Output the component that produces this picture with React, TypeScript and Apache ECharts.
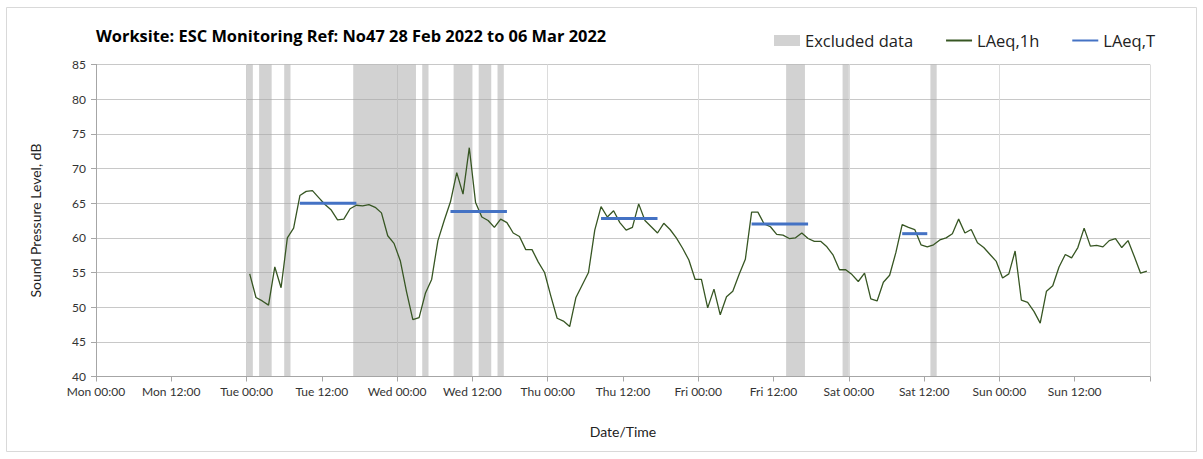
import React, { useEffect, useRef } from "react";
import * as echarts from "echarts";

// Hourly LAeq,1h values, one per hour starting Tue 00:30 (hours from Mon 00:00)
const firstHour = 24.5;
const laeq1h = [
  54.8, 51.4, 50.9, 50.3, 55.8, 52.8, 60.0, 61.4, 66.1, 66.7, 66.8, 65.8,
  64.8, 64.0, 62.6, 62.7, 64.2, 64.7, 64.6, 64.8, 64.4, 63.6, 60.3, 59.2,
  56.7, 52.2, 48.2, 48.5, 52.0, 54.0, 59.6, 62.5, 65.2, 69.4, 66.3, 73.0,
  65.1, 63.0, 62.5, 61.5, 62.7, 62.2, 60.7, 60.2, 58.3, 58.3, 56.5, 55.0,
  51.6, 48.4, 48.0, 47.2, 51.4, 53.2, 55.0, 61.1, 64.5, 63.0, 63.9, 62.2,
  61.1, 61.5, 64.9, 62.5, 61.6, 60.7, 62.1, 61.2, 60.0, 58.5, 56.8, 54.0,
  54.0, 49.9, 52.6, 48.9, 51.5, 52.3, 54.7, 56.9, 63.7, 63.7, 62.0, 61.6,
  60.5, 60.4, 59.9, 60.0, 60.7, 59.9, 59.5, 59.5, 58.7, 57.5, 55.4, 55.4,
  54.7, 53.7, 54.9, 51.2, 50.9, 53.6, 54.6, 57.9, 61.9, 61.5, 61.2, 59.0,
  58.7, 59.0, 59.7, 60.0, 60.6, 62.7, 60.7, 61.2, 59.3, 58.6, 57.6, 56.6,
  54.2, 54.8, 58.1, 51.0, 50.7, 49.4, 47.7, 52.3, 53.1, 55.8, 57.6, 57.1,
  58.6, 61.4, 58.8, 58.9, 58.7, 59.6, 59.9, 58.6, 59.6, 57.3, 54.9, 55.2,
];

// LAeq,T working-period averages (hours from Mon 00:00)
const periodStart = [32.5, 56.5, 80.5, 104.5, 128.5];
const periodEnd = [41.5, 65.5, 89.5, 113.5, 132.5];
const periodValue = [65.0, 63.8, 62.8, 62.0, 60.6];

// Excluded data periods (hours from Mon 00:00)
const excludedStart = [24, 26, 30, 41, 52, 57, 61, 64, 110, 119, 133];
const excludedEnd = [25, 28, 31, 51, 53, 60, 63, 65, 113, 120, 134];

const tickLabels = [
  "Mon 00:00", "Mon 12:00", "Tue 00:00", "Tue 12:00", "Wed 00:00", "Wed 12:00",
  "Thu 00:00", "Thu 12:00", "Fri 00:00", "Fri 12:00", "Sat 00:00", "Sat 12:00",
  "Sun 00:00", "Sun 12:00",
];

const titleText = "Worksite: ESC Monitoring Ref: No47 28 Feb 2022 to 06 Mar 2022";
const FONT = "Lato, 'Open Sans', sans-serif";
const WIDE = "'Open Sans', Lato, sans-serif";

export default function App() {
  const ref = useRef<HTMLDivElement>(null);
  useEffect(() => {
    if (!ref.current) return;
    const chart = echarts.init(ref.current, null, { renderer: "svg" });
    const lineData = laeq1h.map((v, i) => [firstHour + i, v]);
    const periodSeries = periodValue.map((v, i) => ({
      name: "LAeq,T",
      type: "line" as const,
      xAxisIndex: 1,
      data: [
        [periodStart[i], v],
        [periodEnd[i], v],
      ],
      symbol: "none",
      lineStyle: { color: "#4472c4", width: 3 },
      itemStyle: { color: "#4472c4" },
      z: 4,
    }));
    chart.setOption({
      animation: false,
      textStyle: { fontFamily: FONT },
      graphic: [
        {
          type: "rect",
          shape: { x: 6.5, y: 7.5, width: 1190, height: 444 },
          style: { fill: "none", stroke: "#d9d9d9", lineWidth: 1 },
          silent: true,
        },
        {
          type: "text",
          left: 96,
          top: 27,
          style: {
            text: titleText,
            font: `bold 16.4px ${WIDE}`,
            fill: "#000000",
          },
        },
      ],
      legend: {
        left: 774,
        top: 32,
        padding: 0,
        itemWidth: 26,
        itemHeight: 11,
        itemGap: 32,
        textStyle: { fontSize: 16.5, color: "#222", fontFamily: WIDE },
        data: [
          { name: "Excluded data", icon: "rect" },
          { name: "LAeq,1h", itemStyle: { opacity: 0 } },
          { name: "LAeq,T", itemStyle: { opacity: 0 } },
        ],
      },
      grid: { left: 96, top: 64.5, width: 1054, height: 312 },
      xAxis: [
        {
          type: "value",
          min: 0,
          max: 168,
          interval: 24,
          axisLine: { show: false },
          axisTick: { show: false },
          axisLabel: { show: false },
          splitLine: { show: true, lineStyle: { color: "#dcdcdc", width: 1 } },
        },
        {
          type: "value",
          min: 0,
          max: 168,
          interval: 12,
          position: "bottom",
          name: "Date/Time",
          nameLocation: "middle",
          nameGap: 48,
          nameTextStyle: { fontSize: 14, color: "#222", fontFamily: FONT },
          axisLine: { show: true, lineStyle: { color: "#a6a6a6" } },
          axisTick: { show: true, length: 5, lineStyle: { color: "#a6a6a6" } },
          axisLabel: {
            fontSize: 12,
            color: "#333",
            margin: 9,
            fontFamily: FONT,
            formatter: (v: number) => tickLabels[Math.round(v / 12)] ?? "",
          },
          splitLine: { show: false },
        },
      ],
      yAxis: [
        {
          type: "value",
          min: 40,
          max: 85,
          interval: 5,
          name: "Sound Pressure Level, dB",
          nameLocation: "middle",
          nameGap: 54,
          nameTextStyle: { fontSize: 14, color: "#222", fontFamily: FONT },
          axisLine: { show: true, lineStyle: { color: "#a6a6a6" } },
          axisTick: { show: true, length: 5, lineStyle: { color: "#a6a6a6" } },
          axisLabel: { fontSize: 12, color: "#333", margin: 10, fontFamily: FONT },
          splitLine: { show: true, lineStyle: { color: "#c8c8c8", width: 1 } },
        },
        {
          type: "value",
          min: 40,
          max: 85,
          interval: 5,
          position: "right",
          axisLine: { show: true, lineStyle: { color: "#a6a6a6" } },
          axisTick: { show: false },
          axisLabel: { show: false },
          splitLine: { show: false },
        },
      ],
      series: [
        {
          name: "Excluded data",
          type: "line",
          xAxisIndex: 1,
          data: [],
          itemStyle: { color: "#d2d2d2" },
          lineStyle: { color: "#d2d2d2" },
          markArea: {
            silent: true,
            itemStyle: { color: "rgba(166,166,166,0.5)" },
            data: excludedStart.map((s, i) => [
              { xAxis: s, yAxis: 40 },
              { xAxis: excludedEnd[i], yAxis: 85 },
            ]),
          },
          z: 1,
        },
        {
          name: "LAeq,1h",
          type: "line",
          xAxisIndex: 1,
          data: lineData,
          symbol: "none",
          lineStyle: { color: "#375623", width: 1.3 },
          itemStyle: { color: "#375623" },
          z: 3,
        },
        ...periodSeries,
      ],
    });
    return () => chart.dispose();
  }, []);
  return (
    <div
      ref={ref}
      style={{ position: "absolute", left: 0, top: 0, width: 1203, height: 459 }}
    />
  );
}
